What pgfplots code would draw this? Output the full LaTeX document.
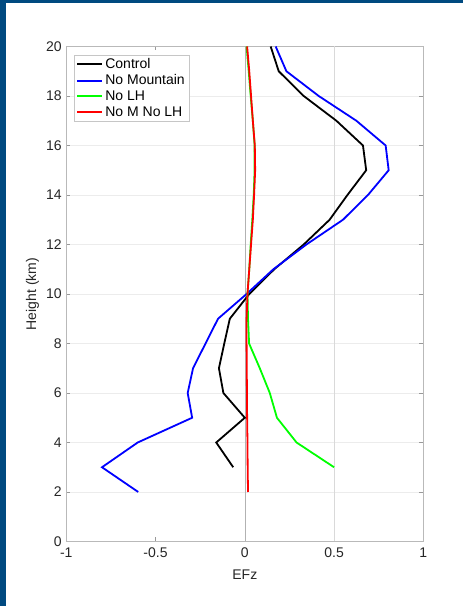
\documentclass[border=0pt]{standalone}
\usepackage{pgfplots}
\pgfplotsset{compat=1.18}
\usepackage{fontspec}
\setmainfont{Liberation Sans}
\definecolor{frameblue}{RGB}{0,74,128}
\definecolor{ticktext}{RGB}{38,38,38}
\begin{document}
\begin{tikzpicture}[x=1bp,y=1bp]
\fill[white] (0,0) rectangle (463,606);
\fill[frameblue] (0,0) rectangle (6,606);
\fill[frameblue] (0,603) rectangle (463,606);
\begin{axis}[
  at={(66.3bp,64.5bp)}, anchor=south west, scale only axis,
  width=357bp, height=495bp,
  xmin=-1, xmax=1, ymin=0, ymax=20,
  xtick={-1,-0.5,0,0.5,1}, ytick={0,2,...,20},
  ymajorgrids, grid style={gray!15, line width=0.5bp},
  tick align=inside, major tick length=4bp,
  tick style={gray!80, line width=0.5bp},
  axis line style={gray!55, line width=0.7bp},
  /pgf/number format/assume math mode=true,
  ticklabel style={font=\fontsize{14bp}{16bp}\selectfont, text=ticktext},
  xticklabel style={yshift=-3bp},
  yticklabel style={xshift=-1bp},
  xlabel={EFz}, ylabel={Height (km)},
  label style={font=\fontsize{14bp}{16bp}\selectfont, text=ticktext},
  xlabel style={at={(axis description cs:0.5,-0.0667)}, anchor=center},
  ylabel style={at={(axis description cs:-0.095,0.5)}, anchor=center},
  legend style={at={(0.022,0.983)}, anchor=north west, draw=gray!45,
    font=\fontsize{14bp}{16.5bp}\selectfont, text=black,
    inner xsep=2bp, inner ysep=1.5bp, row sep=0.5bp},
  legend cell align=left,
  legend image code/.code={\draw[#1, line width=2bp] (0bp,0bp) -- (25bp,0bp);},
]
\addplot[gray!60, line width=0.6bp, forget plot] coordinates {(0,0) (0,20)};
\addplot[gray!30, line width=0.6bp, forget plot] coordinates {(0.5,0) (0.5,20)};
\addplot[black, line width=1.8bp] coordinates {
(-0.065,3) (-0.16,4) (0.0,5) (-0.12,6) (-0.145,7) (-0.115,8) (-0.084,9)
(0.025,10) (0.165,11) (0.33,12) (0.475,13) (0.575,14) (0.68,15) (0.662,16)
(0.513,17) (0.33,18) (0.19,19) (0.145,20)};
\addlegendentry{Control}
\addplot[blue, line width=1.8bp] coordinates {
(-0.597,2) (-0.80,3) (-0.60,4) (-0.295,5) (-0.32,6) (-0.29,7) (-0.22,8)
(-0.15,9) (0.01,10) (0.16,11) (0.345,12) (0.55,13) (0.69,14) (0.806,15)
(0.789,16) (0.625,17) (0.414,18) (0.233,19) (0.173,20)};
\addlegendentry{No Mountain}
\addplot[green, line width=1.8bp] coordinates {
(0.50,3) (0.29,4) (0.18,5) (0.14,6) (0.084,7) (0.024,8) (0.018,9)
(0.015,10) (0.025,11) (0.033,12) (0.042,13) (0.05,14) (0.055,15) (0.055,16)
(0.045,17) (0.033,18) (0.022,19) (0.01,20)};
\addlegendentry{No LH}
\addplot[red, line width=1.8bp] coordinates {
(0.018,2) (0.016,3) (0.015,4) (0.013,5) (0.012,6) (0.011,7) (0.01,8)
(0.01,9) (0.015,10) (0.025,11) (0.035,12) (0.045,13) (0.052,14) (0.058,15)
(0.056,16) (0.045,17) (0.035,18) (0.025,19) (0.013,20)};
\addlegendentry{No M No LH}
\end{axis}
\end{tikzpicture}
\end{document}
